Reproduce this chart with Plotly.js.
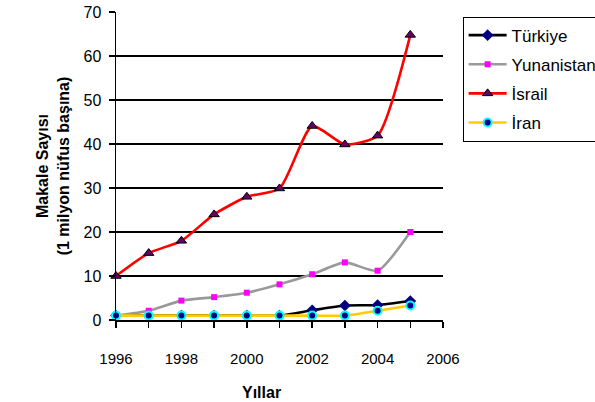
<!DOCTYPE html>
<html>
<head>
<meta charset="utf-8">
<script src="https://cdn.plot.ly/plotly-3.0.1.min.js"></script>
<style>
  html, body { margin: 0; padding: 0; background: #fff; }
  #chart { width: 595px; height: 402px; }
</style>
</head>
<body>
<div id="chart"></div>
<script>
// Articles per million inhabitants, 1996-2005
const years = [1996, 1997, 1998, 1999, 2000, 2001, 2002, 2003, 2004, 2005];
const turkiye    = [1, 1, 1, 1, 1, 1, 2.2, 3.3, 3.4, 4.3];
const yunanistan = [1, 2.1, 4.4, 5.2, 6.2, 8.1, 10.4, 13.1, 11.2, 20];
const israil     = [10, 15.2, 18, 24, 28, 29.9, 44.1, 39.9, 41.9, 64.8];
const iran       = [1, 1, 1, 1, 1, 1, 1, 1, 2.1, 3.3];

const seriesNames = ['Türkiye', 'Yunanistan', 'İsrail', 'İran'];
const xTickVals = [1996, 1998, 2000, 2002, 2004, 2006];
const yTickVals = [0, 10, 20, 30, 40, 50, 60, 70];

const FONT = 'Liberation Sans, Arial, sans-serif';

function series(name, y, lineColor, marker) {
  return {
    x: years, y: y, name: name, legendgroup: name,
    type: 'scatter', mode: 'lines+markers',
    line: { color: lineColor, width: 2.6, shape: 'spline', smoothing: 0.6 },
    marker: marker,
    cliponaxis: false
  };
}

const traces = [
  series(seriesNames[0], turkiye, '#000000',
    { symbol: 'diamond', size: 9, color: '#000080', line: { color: '#000080', width: 0 } }),
  series(seriesNames[1], yunanistan, '#999999',
    { symbol: 'square', size: 6, color: '#ff00ff', line: { width: 0 } }),
  series(seriesNames[2], israil, '#ff0000',
    { symbol: 'triangle-up', size: 9, color: '#660066', line: { color: '#000000', width: 1 } }),
  series(seriesNames[3], iran, '#ffcc00',
    { symbol: 'circle', size: 8, color: '#000080', line: { color: '#00ffff', width: 2 } })
];

const layout = {
  width: 595, height: 402,
  margin: { l: 116, r: 152, t: 12, b: 82, autoexpand: false },
  paper_bgcolor: '#ffffff', plot_bgcolor: '#ffffff',
  font: { family: FONT, size: 15, color: '#000000' },
  showlegend: true,
  legend: {
    x: 1.06, xanchor: 'left', y: 0.985, yanchor: 'top',
    bordercolor: '#000000', borderwidth: 1, bgcolor: '#ffffff',
    font: { family: FONT, size: 17, color: '#000000' },
    traceorder: 'grouped', tracegroupgap: 4, itemwidth: 38
  },
  xaxis: {
    range: [1996, 2006], tickvals: xTickVals, ticktext: xTickVals.map(String),
    showgrid: false, zeroline: false,
    showline: true, linecolor: '#000000', linewidth: 1.5,
    ticks: 'outside', ticklen: 6, tickcolor: '#000000', tickwidth: 1.5,
    minor: { dtick: 1, tick0: 1996, ticks: 'outside', ticklen: 6, tickcolor: '#000000', tickwidth: 1.5, showgrid: false },
    ticklabelstandoff: 18,
    tickfont: { family: FONT, size: 15 }
  },
  yaxis: {
    range: [0, 70], tickvals: yTickVals, ticktext: yTickVals.map(String),
    showgrid: true, gridcolor: '#000000', gridwidth: 1.5,
    zeroline: false,
    showline: true, linecolor: '#000000', linewidth: 1.5,
    ticks: 'outside', ticklen: 6, tickcolor: '#000000', tickwidth: 1.5,
    ticklabelstandoff: 4,
    tickfont: { family: FONT, size: 16 },
    title: {
      text: 'Makale Sayısı<br>(1 milyon nüfus başına)',
      font: { family: FONT, size: 16, color: '#000000', weight: 'bold' },
      standoff: 10
    }
  },
  annotations: [{
    text: '<b>Yıllar</b>', xref: 'paper', yref: 'paper',
    x: 0.446, y: -0.234, xanchor: 'center', yanchor: 'middle',
    showarrow: false, font: { family: FONT, size: 16, color: '#000000' }
  }]
};

Plotly.newPlot('chart', traces, layout, { staticPlot: true, displayModeBar: false });
</script>
</body>
</html>
